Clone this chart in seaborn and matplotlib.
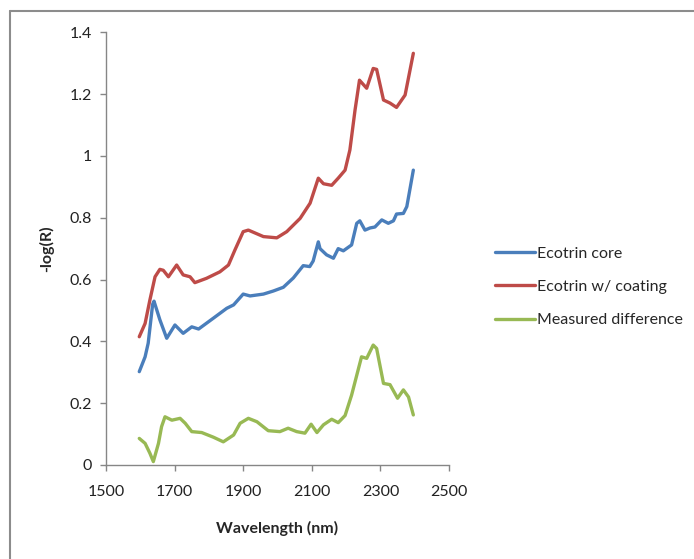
import numpy as np
import pandas as pd
import seaborn as sns
from matplotlib import pyplot as plt
from matplotlib.lines import Line2D

# values
core_wl = [1597, 1614, 1623, 1636, 1640, 1657, 1677, 1701, 1725, 1750, 1770, 1813,
           1852, 1872, 1900, 1920, 1959, 1988, 2017, 2046, 2075, 2094, 2104, 2119,
           2124, 2143, 2163, 2177, 2192, 2216, 2231, 2240, 2255, 2270, 2284, 2304,
           2323, 2338, 2347, 2367, 2377, 2396]
core_val = [0.302, 0.35, 0.394, 0.52, 0.53, 0.47, 0.41, 0.453, 0.426, 0.447, 0.44, 0.475,
            0.507, 0.518, 0.553, 0.547, 0.553, 0.563, 0.575, 0.605, 0.645, 0.642, 0.66, 0.722,
            0.70, 0.68, 0.669, 0.70, 0.693, 0.712, 0.782, 0.79, 0.76, 0.767, 0.77, 0.793,
            0.782, 0.79, 0.812, 0.814, 0.836, 0.954]

coat_wl = [1597, 1614, 1628, 1643, 1657, 1667, 1682, 1706, 1725, 1745, 1759, 1793,
           1832, 1857, 1876, 1900, 1915, 1959, 1998, 2027, 2066, 2095, 2119, 2134,
           2158, 2177, 2197, 2211, 2226, 2239, 2260, 2279, 2289, 2309, 2328, 2347,
           2372, 2396]
coat_val = [0.415, 0.458, 0.534, 0.609, 0.633, 0.63, 0.609, 0.647, 0.615, 0.609, 0.59, 0.604,
            0.625, 0.647, 0.696, 0.755, 0.76, 0.739, 0.735, 0.755, 0.798, 0.847, 0.928, 0.91,
            0.905, 0.928, 0.954, 1.019, 1.148, 1.245, 1.219, 1.283, 1.28, 1.181, 1.171, 1.157,
            1.197, 1.332]

diff_wl = [1597, 1614, 1628, 1638, 1653, 1662, 1672, 1692, 1716, 1731, 1750, 1779,
           1813, 1842, 1872, 1891, 1915, 1940, 1973, 2007, 2031, 2056, 2080, 2098,
           2115, 2134, 2158, 2177, 2197, 2216, 2245, 2260, 2279, 2289, 2309, 2328,
           2350, 2367, 2382, 2396]
diff_val = [0.086, 0.07, 0.038, 0.011, 0.07, 0.124, 0.156, 0.145, 0.151, 0.135, 0.108, 0.105,
            0.09, 0.075, 0.097, 0.135, 0.151, 0.14, 0.111, 0.108, 0.119, 0.108, 0.103, 0.132,
            0.105, 0.13, 0.148, 0.137, 0.16, 0.226, 0.35, 0.345, 0.388, 0.377, 0.264, 0.26,
            0.216, 0.243, 0.22, 0.162]

labels = ["Ecotrin core", "Ecotrin w/ coating", "Measured difference"]
colors = ["#4a7ebb", "#be4b48", "#98b954"]

df = pd.concat([
    pd.DataFrame({"wl": core_wl, "val": core_val, "series": labels[0]}),
    pd.DataFrame({"wl": coat_wl, "val": coat_val, "series": labels[1]}),
    pd.DataFrame({"wl": diff_wl, "val": diff_val, "series": labels[2]}),
])

sns.set_style("white")
plt.rcParams['font.family'] = ['Lato', 'DejaVu Sans']

fig = plt.figure(figsize=(6.94, 5.59), dpi=100)
ax = fig.add_axes([106 / 694, 1 - 465 / 559, 343 / 694, (465 - 32.3) / 559])

sns.lineplot(data=df, x="wl", y="val", hue="series", palette=colors,
             linewidth=2.4, sort=False, estimator=None, ax=ax, legend=False)

ax.set_xlim(1500, 2500)
ax.set_ylim(0, 1.4)
ax.set_xticks(np.arange(1500, 2501, 200))
ax.set_yticks(np.arange(0, 1.41, 0.2))
ax.set_yticklabels(["0", "0.2", "0.4", "0.6", "0.8", "1", "1.2", "1.4"])
ax.tick_params(axis="both", direction="out", length=4.3, width=1, color="#868686",
               labelsize=11.5, labelcolor="#222222", left=True, bottom=True)
ax.tick_params(axis="x", pad=10)
ax.tick_params(axis="y", pad=6)
for s in ["top", "right"]:
    ax.spines[s].set_visible(False)
for s in ["left", "bottom"]:
    ax.spines[s].set_color("#868686")
    ax.spines[s].set_linewidth(1)

ax.set_xlabel("Wavelength (nm)", fontsize=11.5, fontweight="bold", labelpad=16)
ax.set_ylabel("-log(R)", fontsize=11.5, fontweight="bold", labelpad=11)

handles = [Line2D([0], [0], color=c, lw=2.4) for c in colors]
fig.legend(handles, labels, loc="upper left", bbox_to_anchor=(489 / 694, 1 - 240 / 559),
           frameon=False, fontsize=11.5, handlelength=2.5, handletextpad=0.1,
           labelspacing=1.2, borderaxespad=0)

# outer chart border (top and left edges visible)
fig.add_artist(Line2D([10 / 694, 1], [1 - 11 / 559, 1 - 11 / 559], color="#8c8c8c", lw=1.5,
                      transform=fig.transFigure))
fig.add_artist(Line2D([10 / 694, 10 / 694], [0, 1 - 11 / 559], color="#8c8c8c", lw=1.5,
                      transform=fig.transFigure))

fig.savefig("out.png", dpi=100)
